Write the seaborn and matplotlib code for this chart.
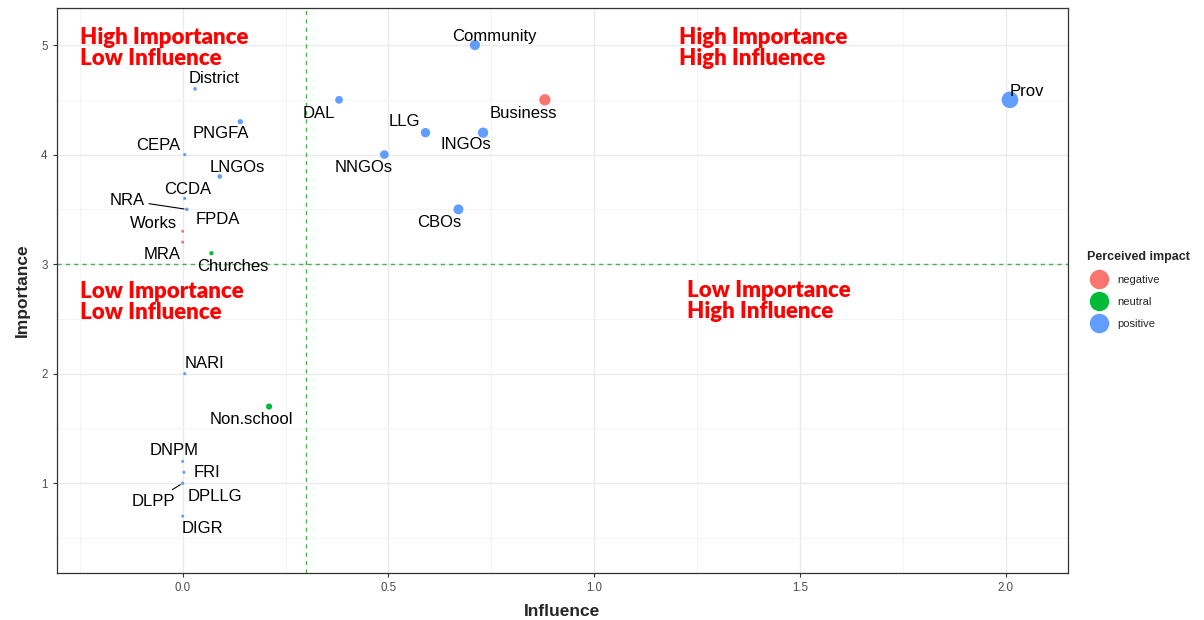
import matplotlib
matplotlib.use("Agg")
import matplotlib.pyplot as plt
from matplotlib.lines import Line2D
import seaborn as sns
import pandas as pd
import numpy as np

names = ['Prov', 'Community', 'Business', 'DAL', 'LLG', 'INGOs', 'NNGOs', 'CBOs',
         'District', 'PNGFA', 'CEPA', 'LNGOs', 'CCDA', 'NRA', 'FPDA', 'Works', 'MRA',
         'Churches', 'NARI', 'Non.school', 'DNPM', 'FRI', 'DPLLG', 'DLPP', 'DIGR']
influence = [2.01, 0.71, 0.88, 0.38, 0.59, 0.73, 0.49, 0.67,
             0.03, 0.14, 0.005, 0.09, 0.005, 0.01, 0.01, 0.0, 0.0,
             0.07, 0.005, 0.21, 0.0, 0.003, 0.0, 0.0, 0.0]
importance = [4.5, 5.0, 4.5, 4.5, 4.2, 4.2, 4.0, 3.5,
              4.6, 4.3, 4.0, 3.8, 3.6, 3.5, 3.5, 3.3, 3.2,
              3.1, 2.0, 1.7, 1.2, 1.1, 1.0, 1.0, 0.7]
impact = ['positive', 'positive', 'negative', 'positive', 'positive', 'positive', 'positive', 'positive',
          'positive', 'positive', 'positive', 'positive', 'positive', 'positive', 'positive', 'negative', 'negative',
          'neutral', 'positive', 'neutral', 'positive', 'positive', 'positive', 'positive', 'positive']
impact_levels = ['negative', 'neutral', 'positive']
quadrant_labels = ['High Importance\nLow Influence', 'High Importance\nHigh Influence',
                   'Low Importance\nLow Influence', 'Low Importance\nHigh Influence']
x_threshold = 0.3
y_threshold = 3.0

# layout: label offsets (pixels, relative to the point), segments flag
label_offsets = {
    'Prov': (17, 8), 'Community': (19, 9), 'Business': (-21, -14), 'DAL': (-20, -14),
    'LLG': (-21, 11), 'INGOs': (-17, -12), 'NNGOs': (-21, -13), 'CBOs': (-19, -13),
    'District': (19, 10), 'PNGFA': (-19, -12), 'CEPA': (-27, 9), 'LNGOs': (18, 9),
    'CCDA': (3, 9), 'NRA': (-60, 9), 'FPDA': (31, -10), 'Works': (-29, 8),
    'MRA': (-21, -12), 'Churches': (21, -13), 'NARI': (20, 10), 'Non.school': (-18, -13),
    'DNPM': (-9, 11), 'FRI': (23, 0), 'DPLLG': (32, -13), 'DLPP': (-29, -18), 'DIGR': (20, -12),
}
segment_labels = {'NRA', 'DLPP'}
quad_pos = [(-0.25, 4.97), (1.205, 4.97), (-0.25, 2.65), (1.225, 2.66)]

palette = {'negative': '#F8766D', 'neutral': '#00BA38', 'positive': '#619CFF'}

df = pd.DataFrame({'name': names, 'Influence': influence,
                   'Importance': importance, 'impact': impact})

sns.set_theme(style='white')
plt.rcParams['font.family'] = ['Liberation Sans', 'DejaVu Sans']

fig = plt.figure(figsize=(12.04, 6.2), dpi=100)
ax = fig.add_axes([56.7 / 1204, 1 - 573.3 / 620, (1068 - 56.7) / 1204, (573.3 - 8) / 620])

ax.set_xlim(-0.306, 2.151)
ax.set_ylim(0.178, 5.338)
ax.set_xticks([0.0, 0.5, 1.0, 1.5, 2.0])
ax.set_xticklabels(['0.0', '0.5', '1.0', '1.5', '2.0'])
ax.set_yticks([1, 2, 3, 4, 5])
ax.set_xticks([-0.25, 0.25, 0.75, 1.25, 1.75], minor=True)
ax.set_yticks([0.5, 1.5, 2.5, 3.5, 4.5], minor=True)
ax.grid(which='major', color='#EBEBEB', linewidth=1.0)
ax.grid(which='minor', color='#F2F2F2', linewidth=0.6)
ax.set_axisbelow(True)
for s in ax.spines.values():
    s.set_color('#333333')
    s.set_linewidth(0.9)
ax.tick_params(axis='both', which='major', length=3, width=0.8, color='#333333',
               labelsize=8.3, labelcolor='#4D4D4D', bottom=True, left=True)
ax.tick_params(which='minor', length=0)

ax.axvline(x_threshold, color='#4CAF50', linestyle=(0, (3, 3)), linewidth=1.0, zorder=1)
ax.axhline(y_threshold, color='#4CAF50', linestyle=(0, (3, 3)), linewidth=1.0, zorder=1)

sns.scatterplot(data=df, x='Influence', y='Importance', hue='impact', hue_order=impact_levels,
                palette=palette, size='Influence', sizes=(4.7, 144), linewidth=0,
                legend=False, ax=ax, zorder=3)

for n, xv, yv in zip(names, influence, importance):
    dx, dy = label_offsets[n]
    kw = {}
    if n in segment_labels:
        kw['arrowprops'] = dict(arrowstyle='-', color='black', lw=0.8, shrinkA=1, shrinkB=2)
    ax.annotate(n, (xv, yv), xytext=(dx, dy), textcoords='offset pixels',
                ha='center', va='center', fontsize=12, color='black', zorder=4, **kw)

for (qx, qy), t in zip(quad_pos, quadrant_labels):
    ax.text(qx, qy, t, ha='left', va='center', color='#FF0000', fontsize=16,
            fontweight='heavy', family=['Lato', 'DejaVu Sans'], linespacing=1.0, zorder=4)

ax.set_xlabel('Influence', fontsize=12.5, fontweight='bold', labelpad=7)
ax.set_ylabel('Importance', fontsize=12.5, fontweight='bold', labelpad=8)

handles = [Line2D([0], [0], marker='o', linestyle='', markersize=14,
                  markerfacecolor=palette[l], markeredgewidth=0) for l in impact_levels]
leg = fig.legend(handles, impact_levels, title='Perceived impact', loc='center left',
                 bbox_to_anchor=(1083 / 1204, 1 - 290 / 620), frameon=False,
                 fontsize=8, title_fontproperties={'weight': 'bold', 'size': 9},
                 handletextpad=0.7, labelspacing=1.1, borderaxespad=0)
leg._legend_box.align = 'left'

fig.savefig('out.png', dpi=100)
